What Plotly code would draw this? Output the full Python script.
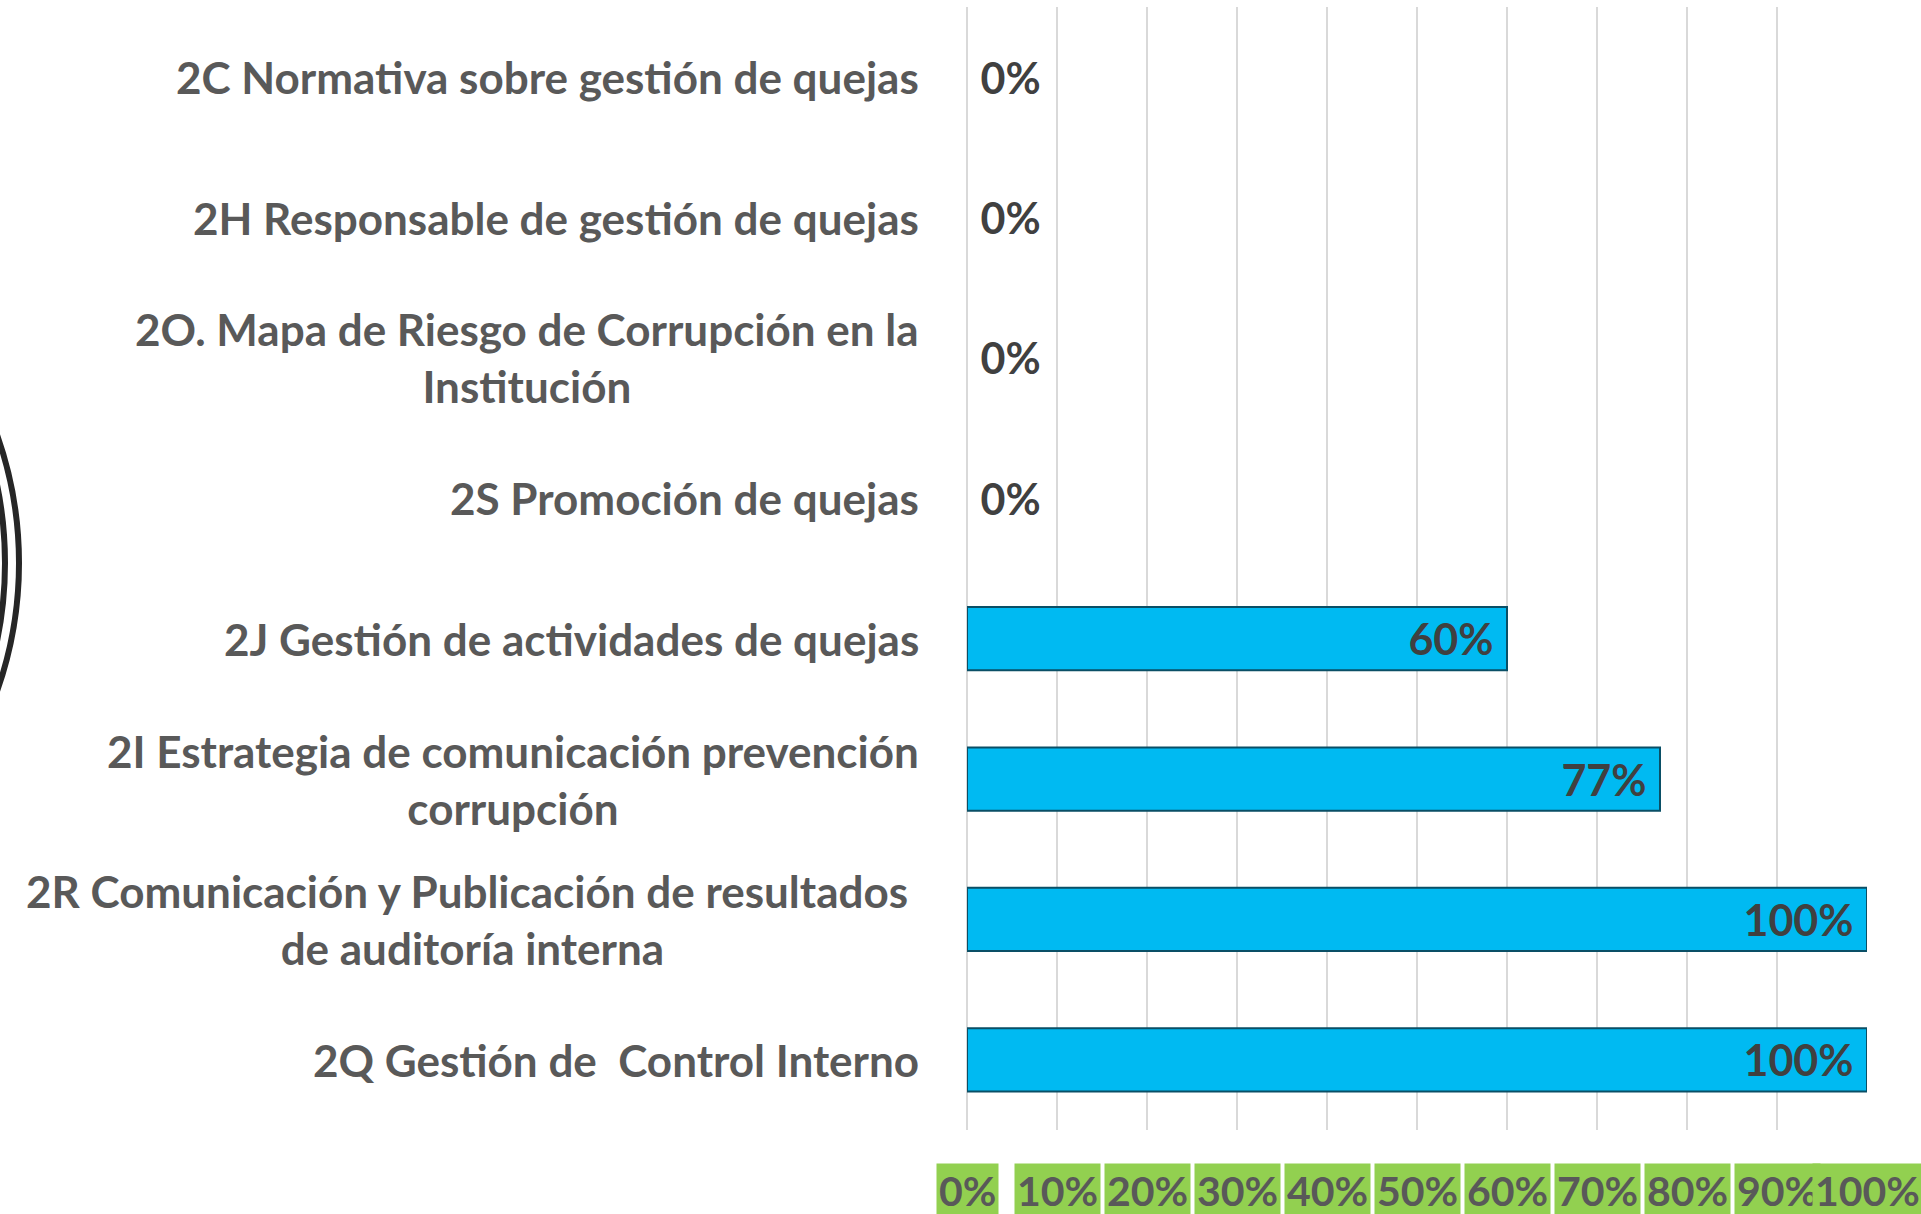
import plotly.graph_objects as go

# ---- data ----
categories = [
    "2C Normativa sobre gestión de quejas",
    "2H Responsable de gestión de quejas",
    "2O. Mapa de Riesgo de Corrupción en la<br>Institución",
    "2S Promoción de quejas",
    "2J Gestión de actividades de quejas",
    "2I Estrategia de comunicación prevención<br>corrupción",
    "2R Comunicación y Publicación de resultados <br>de auditoría interna",
    "2Q Gestión de  Control Interno",
]
values = [0, 0, 0, 0, 60, 77, 100, 100]
tick_values = [0, 10, 20, 30, 40, 50, 60, 70, 80, 90, 100]
tick_labels = ["0%", "10%", "20%", "30%", "40%", "50%", "60%", "70%", "80%", "90%", "100%"]

FONT = "Lato"
W, H = 1921, 1214
ML, MR, MT, MB = 967, 54, 7, 84
PW, PH = W - ML - MR, H - MT - MB


def px_x(p):
    return (p - ML) / PW


def px_y(p):
    return (H - MB - p) / PH


fig = go.Figure()
fig.add_trace(go.Bar(
    y=categories,
    x=values,
    orientation="h",
    width=0.45,
    marker=dict(color="#00BAF2",
                line=dict(color="#0A4F66", width=[0 if v == 0 else 2 for v in values])),
    texttemplate=["\u00a0%{x}%" if v == 0 else "%{x}%\u00a0" for v in values],
    textposition=["outside" if v == 0 else "inside" for v in values],
    insidetextanchor="end",
    constraintext="none",
    cliponaxis=False,
    textfont=dict(family=FONT, size=43, color="#404040", weight="bold"),
    hoverinfo="skip",
))

annotations = []
# category labels (centered multi-line, right-anchored)
for c in categories:
    annotations.append(dict(
        x=px_x(921), xref="paper", y=c, yref="y",
        text=c, showarrow=False, xanchor="right", yanchor="middle", align="center",
        font=dict(family=FONT, size=44, color="#595959", weight="bold"),
    ))
# x tick labels on green boxes
for v, t in zip(tick_values, tick_labels):
    annotations.append(dict(
        x=v, xref="x", y=px_y(1190), yref="paper",
        text=t, showarrow=False, xanchor="center", yanchor="middle",
        bgcolor="#92D050", borderpad=2,
        font=dict(family=FONT, size=41, color="#595959", weight="bold"),
    ))

shapes = []
# decorative double arc at left edge
for right, r in [(19, 385), (5, 385)]:
    cx, cy = right - r, 563
    shapes.append(dict(
        type="circle", xref="paper", yref="paper",
        x0=px_x(cx - r), x1=px_x(cx + r), y0=px_y(cy + r), y1=px_y(cy - r),
        line=dict(color="#262626", width=6), fillcolor="rgba(0,0,0,0)", layer="above",
    ))

fig.update_layout(
    width=W, height=H,
    margin=dict(l=ML, r=MR, t=MT, b=MB, pad=0),
    plot_bgcolor="white", paper_bgcolor="white",
    showlegend=False,
    annotations=annotations,
    shapes=shapes,
    xaxis=dict(range=[0, 100], tickvals=tick_values, showticklabels=False,
               showgrid=True, gridcolor="#D9D9D9", gridwidth=1.5,
               zeroline=True, zerolinecolor="#D9D9D9", zerolinewidth=1.5,
               showline=False, fixedrange=True),
    yaxis=dict(autorange="reversed", showticklabels=False, showgrid=False,
               zeroline=False, showline=False, fixedrange=True),
)

fig.write_html("out.html",
               config={"displayModeBar": False},
               post_script="document.body.style.margin='0';document.body.style.overflow='hidden';")
